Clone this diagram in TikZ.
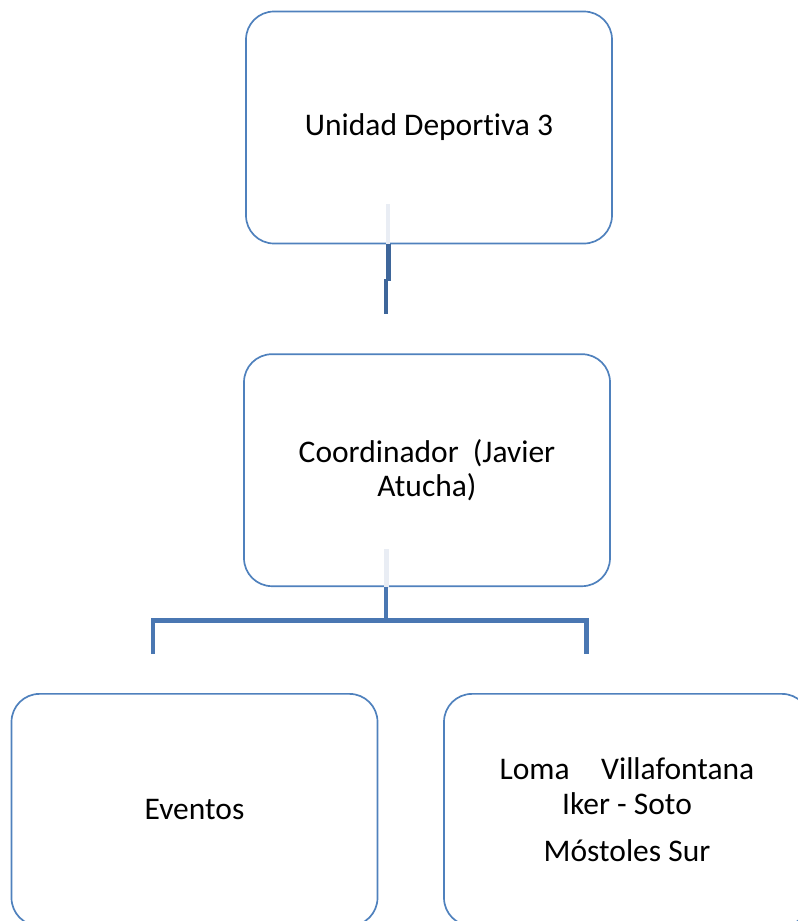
\documentclass[tikz,border=0pt]{standalone}
\usepackage{fontspec}
\setmainfont{Carlito}[Ligatures={NoCommon}]
\usepackage{xcolor}
\usetikzlibrary{positioning, calc}

\definecolor{boxblue}{HTML}{4F81BD}
\definecolor{linkblue}{HTML}{3E669A}
\definecolor{branchblue}{HTML}{4A77B2}
\definecolor{ghostblue}{HTML}{E9EDF4}

\begin{document}
\begin{tikzpicture}[
	node distance=2.7cm,
	% --- Styles ---
	orgbox/.style={
		rectangle, draw=boxblue, line width=1.2pt, rounded corners=0.7cm, fill=white,
		minimum width=9.15cm, minimum height=5.8cm, align=center, inner sep=0pt,
		font=\fontsize{22.4}{24.5}\selectfont
	},
	link/.style={
		draw=linkblue, line width=3.5pt
	},
	branch/.style={
		draw=branchblue, line width=3.5pt, line join=miter
	},
	ghost/.style={
		draw=ghostblue, line width=3.5pt
	}
	]
	
	% --- Frame ---
	\useasboundingbox (0,0) rectangle (19.95,-23.025);
	\clip (0,0) rectangle (19.95,-23.025);
	
	% --- 1. Top level ---
	\node [orgbox] (unidad) at (10.725,-3.1875) {Unidad Deportiva 3};
	
	% --- 2. Coordinator ---
	\node [orgbox, below=2.725cm of unidad, xshift=-0.05cm] (coord) {Coordinador\ \ (Javier\\Atucha)};
	
	% --- 3. Bottom row ---
	\node [orgbox, below=2.65cm of coord, xshift=-5.8125cm] (eventos) {Eventos};
	\node [orgbox, below=2.65cm of coord, xshift=5cm] (sedes) {Loma\quad Villafontana\\Iker - Soto\\[9pt]Móstoles Sur};
	
	% --- Faint stubs inside the boxes ---
	\draw [ghost] ($(unidad.south)+(-1.025,1.0)$) -- ($(unidad.south)+(-1.025,0)$);
	\draw [ghost] ($(coord.south)+(-1.0125,0.95)$) -- ($(coord.south)+(-1.0125,0)$);
	
	% --- Connector top -> coordinator ---
	\coordinate (link_start) at ($(unidad.south)+(-1.0075,0)$);
	\coordinate (link_jog) at ($(unidad.south)+(-1.0075,-0.925)$);
	\coordinate (link_end) at ($(unidad.south)+(-1.075,-1.75)$);
	\draw [link] (link_start) -- (link_jog);
	\draw [link] ($(link_jog -| link_end)+(0,0.06)$) -- (link_end);
	
	% --- Connector coordinator -> bottom row ---
	\coordinate (bar_mid) at ($(coord.south)+(-1.025,-0.825)$);
	\coordinate (drop_left) at ($(eventos.north)+(-1.0375,0.975)$);
	\coordinate (drop_right) at ($(sedes.north)+(-1.0125,0.975)$);
	\draw [branch] (bar_mid |- coord.south) -- (bar_mid);
	\draw [branch] (drop_left) |- (bar_mid) -| (drop_right);
	
\end{tikzpicture}
\end{document}
